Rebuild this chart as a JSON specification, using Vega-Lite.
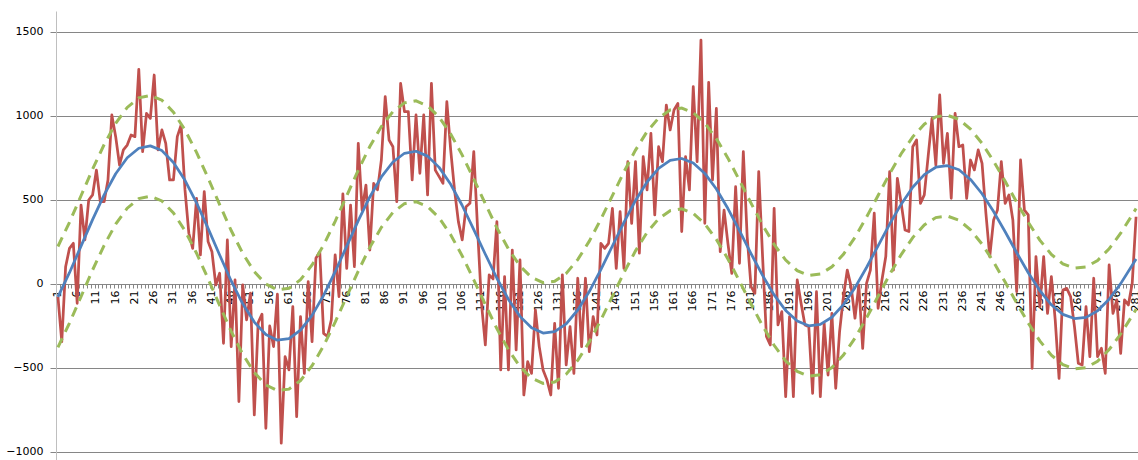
{
"$schema": "https://vega.github.io/schema/vega-lite/v6.json",
"width": 1082,
"height": 449,
"autosize": {"type": "none"},
"padding": {"left": 56, "top": 11, "right": 0, "bottom": 0},
"background": "white",
"config": {"view": {"stroke": null}},
"resolve": {"axis": {"x": "independent"}},
"datasets": {
"red": [
{"c":1,"v":-75},{"c":2,"v":-343},{"c":3,"v":103},{"c":4,"v":212},{"c":5,"v":242},{"c":6,"v":-115},{"c":7,"v":470},{"c":8,"v":262},{"c":9,"v":500},{"c":10,"v":530},
{"c":11,"v":678},{"c":12,"v":490},{"c":13,"v":490},{"c":14,"v":619},{"c":15,"v":1006},{"c":16,"v":877},{"c":17,"v":708},{"c":18,"v":798},{"c":19,"v":827},{"c":20,"v":887},
{"c":21,"v":877},{"c":22,"v":1278},{"c":23,"v":788},{"c":24,"v":1016},{"c":25,"v":986},{"c":26,"v":1244},{"c":27,"v":798},{"c":28,"v":917},{"c":29,"v":837},{"c":30,"v":619},
{"c":31,"v":619},{"c":32,"v":877},{"c":33,"v":946},{"c":34,"v":560},{"c":35,"v":302},{"c":36,"v":212},{"c":37,"v":510},{"c":38,"v":173},{"c":39,"v":550},{"c":40,"v":252},
{"c":41,"v":192},{"c":42,"v":-6},{"c":43,"v":64},{"c":44,"v":-353},{"c":45,"v":262},{"c":46,"v":-373},{"c":47,"v":24},{"c":48,"v":-700},{"c":49,"v":-6},{"c":50,"v":-214},
{"c":51,"v":-55},{"c":52,"v":-780},{"c":53,"v":-230},{"c":54,"v":-180},{"c":55,"v":-859},{"c":56,"v":-250},{"c":57,"v":-373},{"c":58,"v":-60},{"c":59,"v":-948},{"c":60,"v":-432},
{"c":61,"v":-512},{"c":62,"v":-135},{"c":63,"v":-790},{"c":64,"v":-194},{"c":65,"v":-532},{"c":66,"v":14},{"c":67,"v":-343},{"c":68,"v":153},{"c":69,"v":192},{"c":70,"v":-294},
{"c":71,"v":-313},{"c":72,"v":-214},{"c":73,"v":173},{"c":74,"v":-75},{"c":75,"v":536},{"c":76,"v":93},{"c":77,"v":470},{"c":78,"v":103},{"c":79,"v":837},{"c":80,"v":440},
{"c":81,"v":589},{"c":82,"v":202},{"c":83,"v":599},{"c":84,"v":560},{"c":85,"v":738},{"c":86,"v":1115},{"c":87,"v":857},{"c":88,"v":817},{"c":89,"v":490},{"c":90,"v":1194},
{"c":91,"v":1026},{"c":92,"v":1026},{"c":93,"v":619},{"c":94,"v":1006},{"c":95,"v":659},{"c":96,"v":1006},{"c":97,"v":530},{"c":98,"v":1194},{"c":99,"v":678},{"c":100,"v":639},
{"c":101,"v":599},{"c":102,"v":1085},{"c":103,"v":798},{"c":104,"v":560},{"c":105,"v":371},{"c":106,"v":262},{"c":107,"v":460},{"c":108,"v":480},{"c":109,"v":788},{"c":110,"v":321},
{"c":111,"v":-115},{"c":112,"v":-363},{"c":113,"v":54},{"c":114,"v":30},{"c":115,"v":371},{"c":116,"v":-512},{"c":117,"v":44},{"c":118,"v":-512},{"c":119,"v":202},{"c":120,"v":-393},
{"c":121,"v":143},{"c":122,"v":-661},{"c":123,"v":-462},{"c":124,"v":-532},{"c":125,"v":-155},{"c":126,"v":-373},{"c":127,"v":-512},{"c":128,"v":-571},{"c":129,"v":-661},{"c":130,"v":-234},
{"c":131,"v":-621},{"c":132,"v":54},{"c":133,"v":-482},{"c":134,"v":-254},{"c":135,"v":-532},{"c":136,"v":34},{"c":137,"v":-373},{"c":138,"v":34},{"c":139,"v":-403},{"c":140,"v":-194},
{"c":141,"v":-304},{"c":142,"v":242},{"c":143,"v":212},{"c":144,"v":242},{"c":145,"v":450},{"c":146,"v":93},{"c":147,"v":431},{"c":148,"v":93},{"c":149,"v":728},{"c":150,"v":361},
{"c":151,"v":728},{"c":152,"v":183},{"c":153,"v":758},{"c":154,"v":560},{"c":155,"v":897},{"c":156,"v":411},{"c":157,"v":817},{"c":158,"v":728},{"c":159,"v":1065},{"c":160,"v":917},
{"c":161,"v":1036},{"c":162,"v":1075},{"c":163,"v":312},{"c":164,"v":758},{"c":165,"v":560},{"c":166,"v":1175},{"c":167,"v":728},{"c":168,"v":1452},{"c":169,"v":361},{"c":170,"v":1200},
{"c":171,"v":619},{"c":172,"v":1045},{"c":173,"v":192},{"c":174,"v":440},{"c":175,"v":242},{"c":176,"v":63},{"c":177,"v":579},{"c":178,"v":123},{"c":179,"v":788},{"c":180,"v":282},
{"c":181,"v":-16},{"c":182,"v":-56},{"c":183,"v":669},{"c":184,"v":163},{"c":185,"v":-313},{"c":186,"v":-363},{"c":187,"v":450},{"c":188,"v":-244},{"c":189,"v":-165},{"c":190,"v":-671},
{"c":191,"v":-194},{"c":192,"v":-671},{"c":193,"v":24},{"c":194,"v":-115},{"c":195,"v":-244},{"c":196,"v":-254},{"c":197,"v":-651},{"c":198,"v":-46},{"c":199,"v":-671},{"c":200,"v":-234},
{"c":201,"v":-542},{"c":202,"v":-175},{"c":203,"v":-621},{"c":204,"v":-284},{"c":205,"v":-75},{"c":206,"v":83},{"c":207,"v":-16},{"c":208,"v":-204},{"c":209,"v":-6},{"c":210,"v":-383},
{"c":211,"v":4},{"c":212,"v":83},{"c":213,"v":421},{"c":214,"v":-145},{"c":215,"v":24},{"c":216,"v":163},{"c":217,"v":669},{"c":218,"v":83},{"c":219,"v":629},{"c":220,"v":480},
{"c":221,"v":321},{"c":222,"v":312},{"c":223,"v":817},{"c":224,"v":857},{"c":225,"v":480},{"c":226,"v":530},{"c":227,"v":760},{"c":228,"v":986},{"c":229,"v":708},{"c":230,"v":1125},
{"c":231,"v":718},{"c":232,"v":897},{"c":233,"v":510},{"c":234,"v":1016},{"c":235,"v":817},{"c":236,"v":827},{"c":237,"v":510},{"c":238,"v":738},{"c":239,"v":679},{"c":240,"v":798},
{"c":241,"v":718},{"c":242,"v":421},{"c":243,"v":163},{"c":244,"v":381},{"c":245,"v":440},{"c":246,"v":728},{"c":247,"v":480},{"c":248,"v":530},{"c":249,"v":381},{"c":250,"v":-46},
{"c":251,"v":738},{"c":252,"v":440},{"c":253,"v":411},{"c":254,"v":-502},{"c":255,"v":163},{"c":256,"v":-135},{"c":257,"v":163},{"c":258,"v":-175},{"c":259,"v":44},{"c":260,"v":-214},
{"c":261,"v":-562},{"c":262,"v":-36},{"c":263,"v":-26},{"c":264,"v":-75},{"c":265,"v":-254},{"c":266,"v":-472},{"c":267,"v":-482},{"c":268,"v":-135},{"c":269,"v":-433},{"c":270,"v":34},
{"c":271,"v":-433},{"c":272,"v":-383},{"c":273,"v":-532},{"c":274,"v":113},{"c":275,"v":-175},{"c":276,"v":-95},{"c":277,"v":-413},{"c":278,"v":-95},{"c":279,"v":-125},{"c":280,"v":4},
{"c":281,"v":400}
],
"smooth": [
{"c":1,"blue":-77,"hi":223,"lo":-377},{"c":4,"blue":67,"hi":367,"lo":-233},{"c":7,"blue":225,"hi":525,"lo":-75},{"c":10,"blue":383,"hi":683,"lo":83},
{"c":13,"blue":530,"hi":830,"lo":230},{"c":16,"blue":656,"hi":956,"lo":356},{"c":19,"blue":751,"hi":1051,"lo":451},{"c":22,"blue":808,"hi":1108,"lo":508},
{"c":25,"blue":822,"hi":1122,"lo":522},{"c":28,"blue":794,"hi":1094,"lo":494},{"c":31,"blue":723,"hi":1023,"lo":423},{"c":34,"blue":617,"hi":917,"lo":317},
{"c":37,"blue":483,"hi":783,"lo":183},{"c":40,"blue":331,"hi":631,"lo":31},{"c":43,"blue":172,"hi":472,"lo":-128},{"c":46,"blue":18,"hi":318,"lo":-282},
{"c":49,"blue":-118,"hi":182,"lo":-418},{"c":52,"blue":-227,"hi":73,"lo":-527},{"c":55,"blue":-301,"hi":-1,"lo":-601},{"c":58,"blue":-335,"hi":-35,"lo":-635},
{"c":61,"blue":-326,"hi":-26,"lo":-626},{"c":64,"blue":-275,"hi":25,"lo":-575},{"c":67,"blue":-187,"hi":113,"lo":-487},{"c":70,"blue":-68,"hi":232,"lo":-368},
{"c":73,"blue":73,"hi":373,"lo":-227},{"c":76,"blue":225,"hi":525,"lo":-75},{"c":79,"blue":377,"hi":677,"lo":77},{"c":82,"blue":518,"hi":818,"lo":218},
{"c":85,"blue":637,"hi":937,"lo":337},{"c":88,"blue":726,"hi":1026,"lo":426},{"c":91,"blue":778,"hi":1078,"lo":478},{"c":94,"blue":790,"hi":1090,"lo":490},
{"c":97,"blue":761,"hi":1061,"lo":461},{"c":100,"blue":694,"hi":994,"lo":394},{"c":103,"blue":593,"hi":893,"lo":293},{"c":106,"blue":467,"hi":767,"lo":167},
{"c":109,"blue":324,"hi":624,"lo":24},{"c":112,"blue":177,"hi":477,"lo":-123},{"c":115,"blue":34,"hi":334,"lo":-266},{"c":118,"blue":-92,"hi":208,"lo":-392},
{"c":121,"blue":-193,"hi":107,"lo":-493},{"c":124,"blue":-261,"hi":39,"lo":-561},{"c":127,"blue":-292,"hi":8,"lo":-592},{"c":130,"blue":-284,"hi":16,"lo":-584},
{"c":133,"blue":-237,"hi":63,"lo":-537},{"c":136,"blue":-155,"hi":145,"lo":-455},{"c":139,"blue":-45,"hi":255,"lo":-345},{"c":142,"blue":85,"hi":385,"lo":-215},
{"c":145,"blue":226,"hi":526,"lo":-74},{"c":148,"blue":367,"hi":667,"lo":67},{"c":151,"blue":497,"hi":797,"lo":197},{"c":154,"blue":607,"hi":907,"lo":307},
{"c":157,"blue":688,"hi":988,"lo":388},{"c":160,"blue":736,"hi":1036,"lo":436},{"c":163,"blue":747,"hi":1047,"lo":447},{"c":166,"blue":720,"hi":1020,"lo":420},
{"c":169,"blue":658,"hi":958,"lo":358},{"c":172,"blue":565,"hi":865,"lo":265},{"c":175,"blue":449,"hi":749,"lo":149},{"c":178,"blue":317,"hi":617,"lo":17},
{"c":181,"blue":181,"hi":481,"lo":-119},{"c":184,"blue":51,"hi":351,"lo":-249},{"c":187,"blue":-65,"hi":235,"lo":-365},{"c":190,"blue":-158,"hi":142,"lo":-458},
{"c":193,"blue":-221,"hi":79,"lo":-521},{"c":196,"blue":-249,"hi":51,"lo":-549},{"c":199,"blue":-241,"hi":59,"lo":-541},{"c":202,"blue":-198,"hi":102,"lo":-498},
{"c":205,"blue":-123,"hi":177,"lo":-423},{"c":208,"blue":-22,"hi":278,"lo":-322},{"c":211,"blue":98,"hi":398,"lo":-202},{"c":214,"blue":227,"hi":527,"lo":-73},
{"c":217,"blue":356,"hi":656,"lo":56},{"c":220,"blue":475,"hi":775,"lo":175},{"c":223,"blue":576,"hi":876,"lo":276},{"c":226,"blue":651,"hi":951,"lo":351},
{"c":229,"blue":695,"hi":995,"lo":395},{"c":232,"blue":704,"hi":1004,"lo":404},{"c":235,"blue":680,"hi":980,"lo":380},{"c":238,"blue":622,"hi":922,"lo":322},
{"c":241,"blue":537,"hi":837,"lo":237},{"c":244,"blue":431,"hi":731,"lo":131},{"c":247,"blue":311,"hi":611,"lo":11},{"c":250,"blue":186,"hi":486,"lo":-114},
{"c":253,"blue":67,"hi":367,"lo":-233},{"c":256,"blue":-39,"hi":261,"lo":-339},{"c":259,"blue":-124,"hi":176,"lo":-424},{"c":262,"blue":-181,"hi":119,"lo":-481},
{"c":265,"blue":-206,"hi":94,"lo":-506},{"c":268,"blue":-199,"hi":101,"lo":-499},{"c":271,"blue":-160,"hi":140,"lo":-460},{"c":274,"blue":-91,"hi":209,"lo":-391},
{"c":277,"blue":2,"hi":302,"lo":-298},{"c":280,"blue":111,"hi":411,"lo":-189},{"c":281,"blue":149,"hi":449,"lo":-151}
]
},
"layer": [
{"data": {"name": "red"},
"mark": {"type": "line", "color": "#C0504D", "strokeWidth": 2.75, "strokeJoin": "round"},
"encoding": {
"x": {"field": "c", "type": "ordinal", "bandPosition": 0.5,
"scale": {"type": "band", "paddingInner": 0, "paddingOuter": 0},
"axis": {"title": null, "orient": "bottom", "offset": -176, "grid": false, "labels": false,
"domainColor": "#868686", "domainWidth": 1, "tickColor": "#868686", "tickSize": 4, "tickBand": "extent"}},
"y": {"field": "v", "type": "quantitative", "title": null,
"scale": {"domain": [-1048, 1625], "nice": false, "zero": false},
"axis": {"values": [-1000, -500, 0, 500, 1000, 1500], "format": "d", "title": null,
"domainColor": "#BFBFBF", "tickColor": "#868686", "tickSize": 6, "labelPadding": 7,
"labelFont": "DejaVu Sans", "labelFontSize": 11, "labelColor": "#000000",
"grid": true, "gridColor": "#868686", "gridWidth": 1}}}},
{"data": {"name": "smooth"},
"mark": {"type": "line", "color": "#4F81BD", "strokeWidth": 2.75, "strokeJoin": "round"},
"encoding": {
"x": {"field": "c", "type": "ordinal", "bandPosition": 0.5,
"axis": {"title": null, "orient": "bottom", "offset": -176, "grid": false, "ticks": false, "domain": false,
"values": [1,6,11,16,21,26,31,36,41,46,51,56,61,66,71,76,81,86,91,96,101,106,111,116,121,126,131,136,141,146,151,156,161,166,171,176,181,186,191,196,201,206,211,216,221,226,231,236,241,246,251,256,261,266,271,276,281],
"labelAngle": 270, "labelAlign": "right", "labelBaseline": "middle", "labelOverlap": false, "labelPadding": 6,
"labelFont": "DejaVu Sans", "labelFontSize": 11, "labelColor": "#000000"}},
"y": {"field": "blue", "type": "quantitative", "title": null}}},
{"data": {"name": "smooth"},
"mark": {"type": "line", "color": "#9BBB59", "strokeWidth": 3, "strokeDash": [10, 7]},
"encoding": {
"x": {"field": "c", "type": "ordinal", "bandPosition": 0.5, "axis": null},
"y": {"field": "hi", "type": "quantitative", "title": null}}},
{"data": {"name": "smooth"},
"mark": {"type": "line", "color": "#9BBB59", "strokeWidth": 3, "strokeDash": [10, 7]},
"encoding": {
"x": {"field": "c", "type": "ordinal", "bandPosition": 0.5, "axis": null},
"y": {"field": "lo", "type": "quantitative", "title": null}}}
]
}
